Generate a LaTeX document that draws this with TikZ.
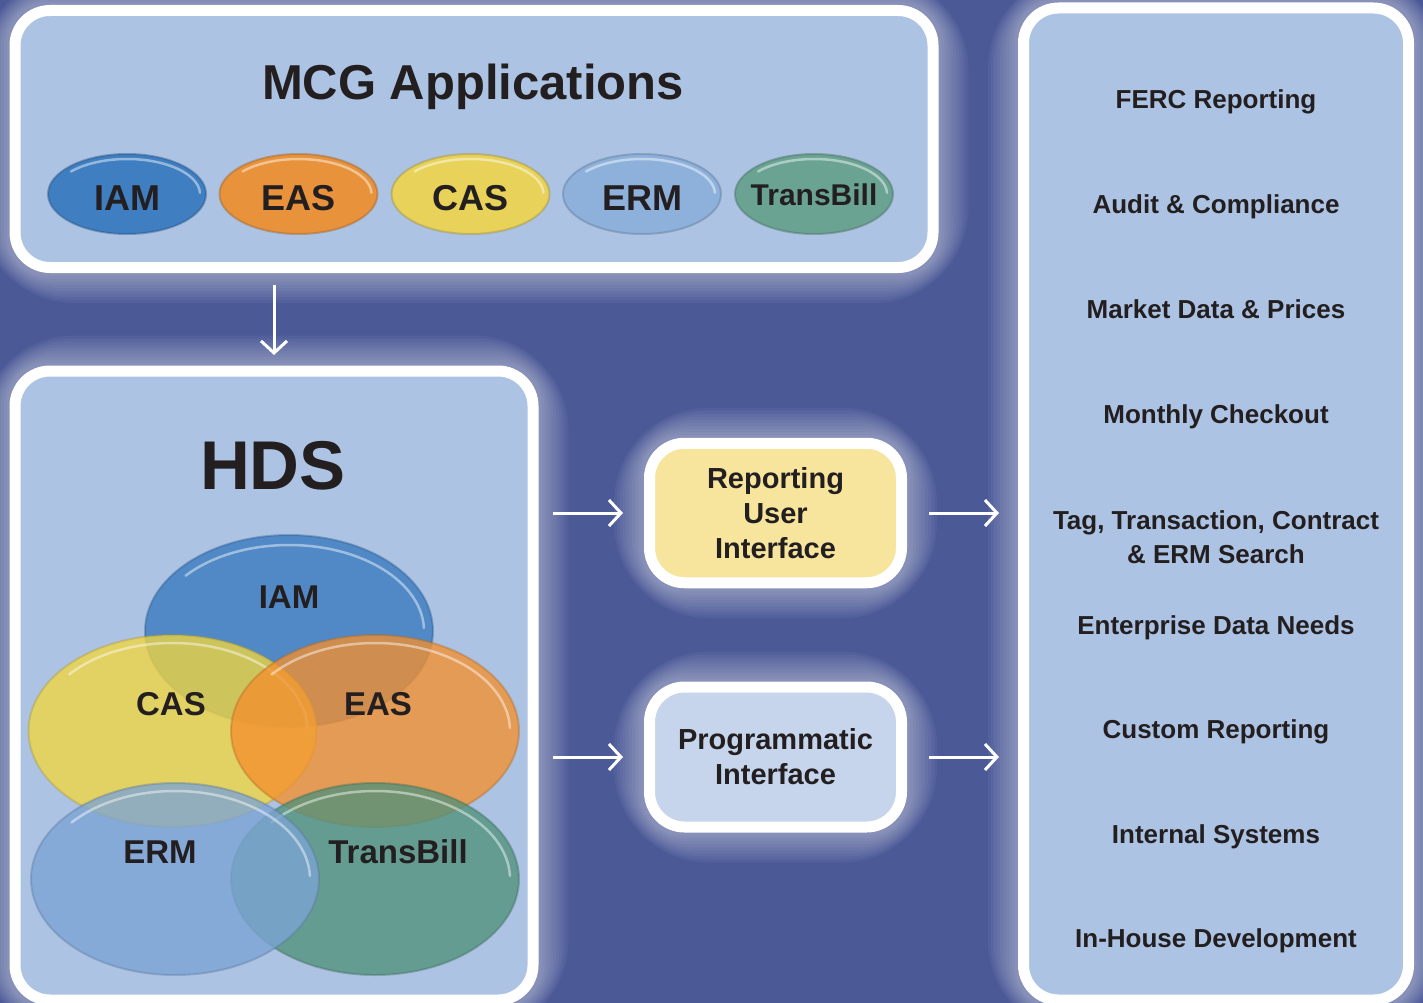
\documentclass[tikz,border=0pt]{standalone}
\usepackage{fontspec}
\setmainfont{Liberation Sans}
\usetikzlibrary{shapes.geometric,arrows.meta}
\pgfdeclarelayer{bg}\pgfdeclarelayer{glowl}
\pgfsetlayers{bg,glowl,main}
\definecolor{bgblue}{HTML}{4B5997}
\definecolor{panelfill}{HTML}{ADC3E3}
\definecolor{pifill}{HTML}{C6D5EC}
\definecolor{ruifill}{HTML}{F7E59D}
\definecolor{txt}{HTML}{231F20}
\definecolor{mIAM}{HTML}{3F7EC1}
\definecolor{mEAS}{HTML}{E8923B}
\definecolor{mCAS}{HTML}{E8D25A}
\definecolor{mERM}{HTML}{8EB1DC}
\definecolor{mTB}{HTML}{6BA393}
\definecolor{hIAM}{HTML}{3879BF}
\definecolor{hCAS}{HTML}{F2D53F}
\definecolor{hEAS}{HTML}{F3902E}
\definecolor{hERM}{HTML}{7CA4D5}
\definecolor{hTB}{HTML}{52927A}
\newcommand\ellhl[4]{\draw[white,opacity=.45,line width=2.5pt,line cap=round] ({#1+#3*cos(220)},{#2+#4*sin(220)}) arc[start angle=220,end angle=358,x radius=#3,y radius=#4];}
\tikzset{
  panel/.style={draw=white, line width=11pt, fill=panelfill, rounded corners=35pt, inner sep=0pt},
  arr/.style={draw=white, line width=3pt, -{Straight Barb[length=12pt,width=26pt]}},
  mell/.style={ellipse, minimum width=158pt, minimum height=80pt, inner sep=0pt, fill=#1, draw=#1!70!black, draw opacity=.45, line width=2pt},
  hell/.style={ellipse, minimum width=288pt, minimum height=192pt, inner sep=0pt, fill=#1, fill opacity=.78, draw=#1!70!black, draw opacity=.35, line width=2pt},
  lab/.style={anchor=base, inner sep=0pt, text=txt, font=\bfseries\fontsize{36}{40}\selectfont},
  hlab/.style={anchor=base, inner sep=0pt, text=txt, font=\bfseries\fontsize{33}{38}\selectfont},
  item/.style={anchor=base, inner sep=0pt, text=txt, align=center, font=\bfseries\fontsize{26}{34}\selectfont},
  boxtxt/.style={text=txt, align=center, font=\bfseries\fontsize{29}{35}\selectfont},
}
\begin{document}
\begin{tikzpicture}[x=1pt,y=-1pt]
\begin{pgfonlayer}{bg}
\fill[bgblue] (0,0) rectangle (1423,1003);
\end{pgfonlayer}
\useasboundingbox (0,0) rectangle (1423,1003);

% panels
\node[panel, minimum width=918pt, minimum height=257pt] (mcg) at (474,139) {};
\node[panel, minimum width=518pt, minimum height=629pt] (hds) at (274,685.5) {};
\node[panel, minimum width=385pt, minimum height=992pt] (out) at (1216,504) {};
\node[panel, fill=ruifill, minimum width=252pt, minimum height=139.5pt] (rui) at (775.5,513) {};
\node[panel, fill=pifill, minimum width=252pt, minimum height=140pt] (pi) at (775.5,757) {};

\begin{pgfonlayer}{glowl}
\foreach \n in {mcg,hds,out,rui,pi}{
  \foreach \i in {1,...,10}{
    \draw[white, opacity=0.045, line width={6pt*\i}, rounded corners={35pt+3pt*\i}] (\n.south west) rectangle (\n.north east);
  }
}
\end{pgfonlayer}

% MCG panel
\node[anchor=base, inner sep=0pt, text=txt, font=\bfseries\fontsize{49}{55}\selectfont] (mcgt) at (473,100) {MCG Applications};
\foreach \nm/\c/\x in {a1/mIAM/127, a2/mEAS/298.5, a3/mCAS/470.5, a4/mERM/642, a5/mTB/814}{
  \node[mell=\c] (\nm) at (\x,194) {};
  \ellhl{\x}{194}{73}{35}
}
\node[lab] at (a1.center |- 0,211) {IAM};
\node[lab] at (a2.center |- 0,211) {EAS};
\node[lab] at (a3.center |- 0,211) {CAS};
\node[lab] at (a4.center |- 0,211) {ERM};
\node[lab, font=\bfseries\fontsize{30}{34}\selectfont] at (a5.center |- 0,205) {TransBill};

% HDS panel
\node[anchor=base, inner sep=0pt, text=txt, font=\bfseries\fontsize{69}{75}\selectfont] (hdst) at (273,489) {HDS};
\node[hell=hIAM] (hiam) at (289,631) {};
\ellhl{289}{631}{135}{86}
\node[hell=hCAS] (hcas) at (172.5,731) {};
\ellhl{172.5}{731}{135}{88}
\node[hell=hEAS] (heas) at (375,731) {};
\ellhl{375}{731}{135}{88}
\node[hell=hTB] (htb) at (375,879) {};
\ellhl{375}{879}{135}{88}
\node[hell=hERM] (herm) at (175,879) {};
\ellhl{175}{879}{135}{88}
\node[hlab] at (289,608) {IAM};
\node[hlab] at (171,715) {CAS};
\node[hlab] at (378,715) {EAS};
\node[hlab] at (160,863) {ERM};
\node[hlab] at (398,863) {TransBill};

% interface boxes
\node[boxtxt] at (rui.center) {Reporting\\User\\Interface};
\node[boxtxt] at (pi.center) {Programmatic\\Interface};

% output list
\node[item] at (1216,109) {FERC Reporting};
\node[item] at (1216,213) {Audit \& Compliance};
\node[item] at (1216,318) {Market Data \& Prices};
\node[item] at (1216,423) {Monthly Checkout};
\node[item, anchor=center] at (1216,537) {Tag, Transaction, Contract\\\& ERM Search};
\node[item] at (1216,634) {Enterprise Data Needs};
\node[item] at (1216,738) {Custom Reporting};
\node[item] at (1216,843) {Internal Systems};
\node[item] at (1216,947) {In-House Development};

% connectors
\draw[arr, shorten <=12pt, shorten >=10.5pt] (mcg.south -| hds.north) -- (hds.north);
\draw[arr, shorten <=14.5pt, shorten >=21pt] (hds.east |- rui.west) -- (rui.west);
\draw[arr, shorten <=14.5pt, shorten >=21pt] (hds.east |- pi.west) -- (pi.west);
\draw[arr, shorten <=22pt, shorten >=19pt] (rui.east) -- (rui.east -| out.west);
\draw[arr, shorten <=22pt, shorten >=19pt] (pi.east) -- (pi.east -| out.west);
\end{tikzpicture}
\end{document}
